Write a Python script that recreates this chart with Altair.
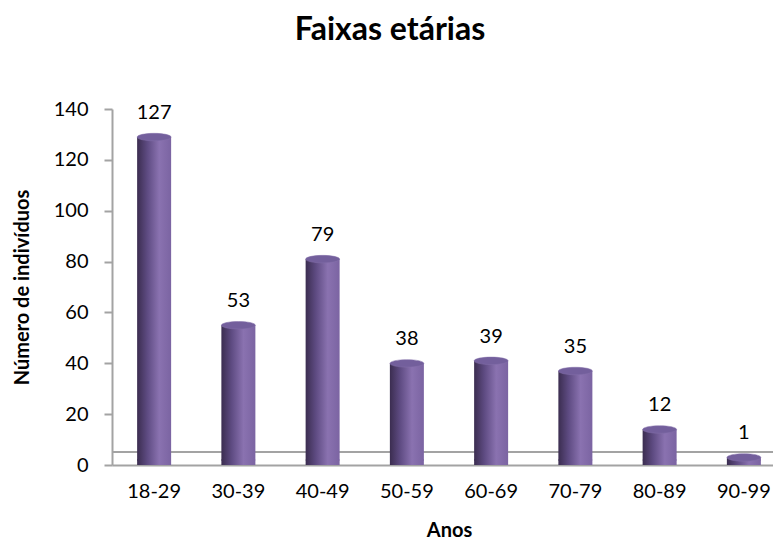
import altair as alt
import pandas as pd

categories = ["18-29", "30-39", "40-49", "50-59", "60-69", "70-79", "80-89", "90-99"]
values = [127, 53, 79, 38, 39, 35, 12, 1]
y_ticks = [0, 20, 40, 60, 80, 100, 120, 140]

df = pd.DataFrame({"faixa": categories, "n": values})

FONT = "Lato"
GRAY = "#a3a3a3"

grad = alt.Gradient(
    gradient="linear",
    x1=0, x2=1, y1=0, y2=0,
    stops=[
        alt.GradientStop(color="#3b2d50", offset=0),
        alt.GradientStop(color="#5e4b82", offset=0.3),
        alt.GradientStop(color="#8a72b0", offset=0.65),
        alt.GradientStop(color="#7b64a2", offset=1),
    ],
)

ellipse = "M -1 0 A 1 0.22 0 1 1 1 0 A 1 0.22 0 1 1 -1 0 Z"

x_enc = alt.X(
    "faixa:N",
    sort=categories,
    scale=alt.Scale(range=[0, 674], paddingInner=0, paddingOuter=0),
    axis=alt.Axis(
        title="Anos", labelAngle=0, labelFont=FONT, labelFontSize=20, labelColor="#000",
        labelPadding=16, ticks=False, domainColor=GRAY, domainWidth=2,
        titleFont=FONT, titleFontSize=20, titleFontWeight="bold", titleColor="#000",
        titlePadding=19,
    ),
)
y_scale = alt.Scale(domain=[0, 140], nice=False)
y_enc = alt.Y(
    "n:Q",
    scale=y_scale,
    axis=alt.Axis(
        title="Número de indivíduos", values=y_ticks, grid=False,
        labelFont=FONT, labelFontSize=20, labelColor="#000", labelPadding=16,
        tickSize=8, tickColor=GRAY, tickWidth=2, domainColor=GRAY, domainWidth=2,
        titleFont=FONT, titleFontSize=20, titleFontWeight="bold", titleColor="#000",
        titlePadding=21,
    ),
)

back_line = alt.Chart(df).mark_rule(color=GRAY, strokeWidth=2, yOffset=-13).encode(
    y=alt.Y("zero:Q", scale=y_scale),
    x=alt.value(0), x2=alt.value(670),
).transform_calculate(zero="0")

bottom = alt.Chart(df).mark_point(
    shape=ellipse, size=1156, filled=True, fill=grad, opacity=1, strokeWidth=0, yOffset=-5
).encode(x=x_enc, y=alt.Y("zero:Q", scale=y_scale)).transform_calculate(zero="0")

bars = alt.Chart(df).mark_bar(width=34, fill=grad, yOffset=-5).encode(
    x=x_enc, y=y_enc, y2=alt.Y2("zero:Q")
).transform_calculate(zero="0")

top = alt.Chart(df).mark_point(
    shape=ellipse, size=1156, filled=True, fill="#735f9c", opacity=1,
    stroke="#8470aa", strokeWidth=0.5, yOffset=-5
).encode(x=x_enc, y=alt.Y("n:Q", scale=y_scale))

labels = alt.Chart(df).mark_text(
    font=FONT, fontSize=20, color="#000", baseline="alphabetic", dy=-23
).encode(x=x_enc, y=alt.Y("n:Q", scale=y_scale), text="n:Q")

chart = alt.layer(back_line, bottom, bars, top, labels).properties(
    width=656,
    height=356,
    autosize=alt.AutoSizeParams(type="none"),
    padding={"left": 104, "top": 101, "right": 5, "bottom": 82},
    title=alt.TitleParams(
        "Faixas etárias", font=FONT, fontSize=32, fontWeight="bold", color="#000",
        anchor="middle", frame="group", dx=-50, offset=52,
    ),
).configure_view(stroke=None)

chart.save("out.html", embed_options={"renderer": "svg", "actions": False})
